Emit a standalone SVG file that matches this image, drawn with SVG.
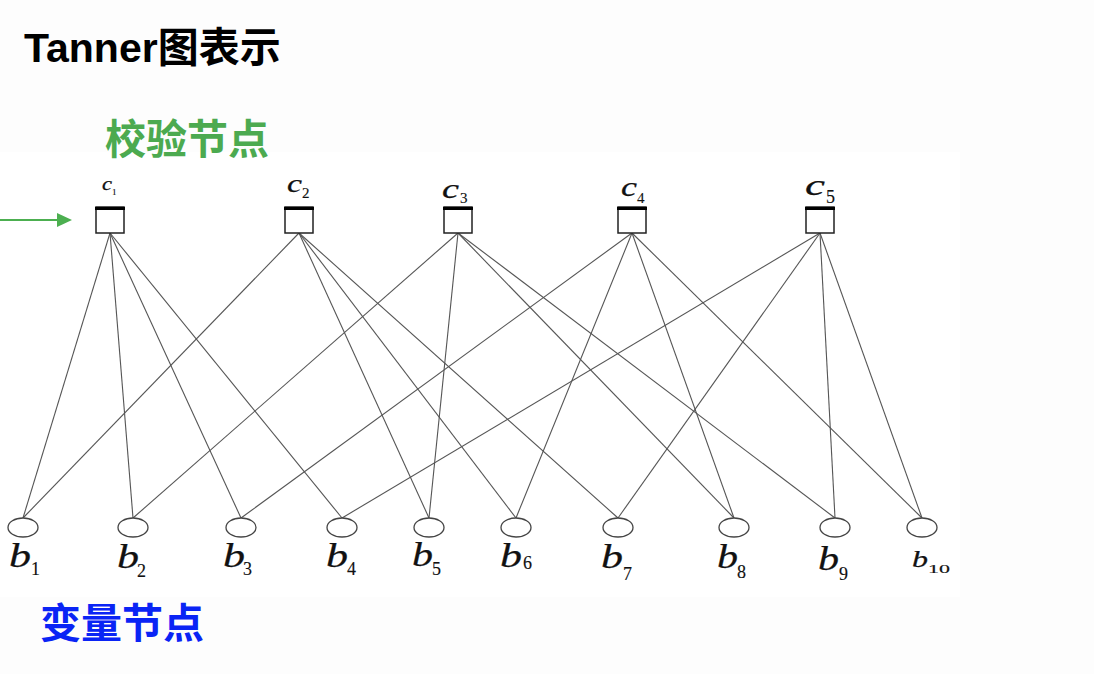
<svg xmlns="http://www.w3.org/2000/svg" width="1094" height="674" viewBox="0 0 1094 674">
<defs>
<style>
.title{font-family:"Liberation Sans","Noto Sans CJK SC",sans-serif;font-weight:bold;font-size:41px;fill:#000}
.cjk{font-family:"Noto Sans CJK SC",sans-serif;font-weight:bold;font-size:41px}
.edge{stroke:#555;stroke-width:1.1;fill:none}
.box{fill:#fff;stroke:#222;stroke-width:1.5}
.bar{stroke:#000;stroke-width:3}
.var{fill:#fff;stroke:#444;stroke-width:1.3}
.lbl{font-family:"Liberation Serif",serif;font-style:italic;fill:#111;stroke:#111;stroke-width:0.25}
.sub{font-family:"Liberation Serif",serif;fill:#111;stroke:#111;stroke-width:0.15}
</style>
</defs>
<rect x="0" y="0" width="1094" height="674" fill="#fdfdfd"/>
<rect x="0" y="152" width="960" height="445" fill="#ffffff"/>
<text class="title" x="24" y="62">Tanner图表示</text>
<text class="cjk" x="105" y="154" fill="#4caa50">校验节点</text>
<text class="cjk" x="40" y="638" fill="#0a24f5">变量节点</text>
<line x1="0" y1="220" x2="60" y2="220" stroke="#4caf50" stroke-width="2"/>
<path d="M57,213 L72,220 L57,227 z" fill="#4caf50"/>
<g id="connectors">
<line class="edge" x1="110" y1="233" x2="23" y2="518"/>
<line class="edge" x1="110" y1="233" x2="133" y2="518"/>
<line class="edge" x1="110" y1="233" x2="241" y2="518"/>
<line class="edge" x1="110" y1="233" x2="342" y2="518"/>
<line class="edge" x1="299" y1="233" x2="23" y2="518"/>
<line class="edge" x1="299" y1="233" x2="429" y2="518"/>
<line class="edge" x1="299" y1="233" x2="516" y2="518"/>
<line class="edge" x1="299" y1="233" x2="618" y2="518"/>
<line class="edge" x1="458" y1="233" x2="133" y2="518"/>
<line class="edge" x1="458" y1="233" x2="429" y2="518"/>
<line class="edge" x1="458" y1="233" x2="734" y2="518"/>
<line class="edge" x1="458" y1="233" x2="835" y2="518"/>
<line class="edge" x1="632" y1="233" x2="241" y2="518"/>
<line class="edge" x1="632" y1="233" x2="516" y2="518"/>
<line class="edge" x1="632" y1="233" x2="734" y2="518"/>
<line class="edge" x1="632" y1="233" x2="922" y2="518"/>
<line class="edge" x1="820" y1="233" x2="342" y2="518"/>
<line class="edge" x1="820" y1="233" x2="618" y2="518"/>
<line class="edge" x1="820" y1="233" x2="835" y2="518"/>
<line class="edge" x1="820" y1="233" x2="922" y2="518"/>
</g>
<g id="c1"><rect class="box" x="96" y="207" width="28" height="26"/><line class="bar" x1="95" y1="208.5" x2="125" y2="208.5"/><text class="lbl" x="102" y="190" font-size="18" textLength="10" lengthAdjust="spacingAndGlyphs">c</text><text class="sub" x="112" y="195" font-size="9">1</text></g>
<g id="c2"><rect class="box" x="285" y="207" width="28" height="26"/><line class="bar" x1="284" y1="208.5" x2="314" y2="208.5"/><text class="lbl" x="287" y="192" font-size="26" textLength="15" lengthAdjust="spacingAndGlyphs">c</text><text class="sub" x="302" y="198" font-size="15">2</text></g>
<g id="c3"><rect class="box" x="444" y="207" width="28" height="26"/><line class="bar" x1="443" y1="208.5" x2="473" y2="208.5"/><text class="lbl" x="442" y="198" font-size="27" textLength="17" lengthAdjust="spacingAndGlyphs">c</text><text class="sub" x="460" y="203" font-size="15">3</text></g>
<g id="c4"><rect class="box" x="618" y="207" width="28" height="26"/><line class="bar" x1="617" y1="208.5" x2="647" y2="208.5"/><text class="lbl" x="621" y="196" font-size="27" textLength="16" lengthAdjust="spacingAndGlyphs">c</text><text class="sub" x="637" y="203" font-size="15">4</text></g>
<g id="c5"><rect class="box" x="806" y="207" width="28" height="26"/><line class="bar" x1="805" y1="208.5" x2="835" y2="208.5"/><text class="lbl" x="805" y="195" font-size="30" textLength="20" lengthAdjust="spacingAndGlyphs">c</text><text class="sub" x="826" y="203" font-size="18">5</text></g>
<g id="b1"><ellipse class="var" cx="23" cy="527.5" rx="15" ry="9.5"/><text class="lbl" x="9" y="567" font-size="34" textLength="22" lengthAdjust="spacingAndGlyphs">b</text><text class="sub" x="31" y="575" font-size="18">1</text></g>
<g id="b2"><ellipse class="var" cx="133" cy="527.5" rx="15" ry="9.5"/><text class="lbl" x="117" y="568" font-size="34" textLength="22" lengthAdjust="spacingAndGlyphs">b</text><text class="sub" x="137" y="577" font-size="18">2</text></g>
<g id="b3"><ellipse class="var" cx="241" cy="527.5" rx="15" ry="9.5"/><text class="lbl" x="223" y="567" font-size="34" textLength="22" lengthAdjust="spacingAndGlyphs">b</text><text class="sub" x="243" y="575" font-size="18">3</text></g>
<g id="b4"><ellipse class="var" cx="342" cy="527.5" rx="15" ry="9.5"/><text class="lbl" x="326" y="567" font-size="34" textLength="22" lengthAdjust="spacingAndGlyphs">b</text><text class="sub" x="347" y="575" font-size="18">4</text></g>
<g id="b5"><ellipse class="var" cx="429" cy="527.5" rx="15" ry="9.5"/><text class="lbl" x="412" y="566" font-size="34" textLength="21" lengthAdjust="spacingAndGlyphs">b</text><text class="sub" x="432" y="575" font-size="18">5</text></g>
<g id="b6"><ellipse class="var" cx="516" cy="527.5" rx="15" ry="9.5"/><text class="lbl" x="500" y="567" font-size="34" textLength="22" lengthAdjust="spacingAndGlyphs">b</text><text class="sub" x="523" y="569" font-size="18">6</text></g>
<g id="b7"><ellipse class="var" cx="618" cy="527.5" rx="15" ry="9.5"/><text class="lbl" x="601" y="568" font-size="34" textLength="22" lengthAdjust="spacingAndGlyphs">b</text><text class="sub" x="623" y="580" font-size="18">7</text></g>
<g id="b8"><ellipse class="var" cx="734" cy="527.5" rx="15" ry="9.5"/><text class="lbl" x="717" y="568" font-size="34" textLength="21" lengthAdjust="spacingAndGlyphs">b</text><text class="sub" x="737" y="578" font-size="18">8</text></g>
<g id="b9"><ellipse class="var" cx="835" cy="527.5" rx="15" ry="9.5"/><text class="lbl" x="818" y="570" font-size="34" textLength="21" lengthAdjust="spacingAndGlyphs">b</text><text class="sub" x="839" y="580" font-size="18">9</text></g>
<g id="b10"><ellipse class="var" cx="922" cy="527.5" rx="15" ry="9.5"/><text class="lbl" x="912" y="567" font-size="24" textLength="16" lengthAdjust="spacingAndGlyphs">b</text><text class="sub" x="928" y="573" font-size="13" textLength="22" lengthAdjust="spacingAndGlyphs">10</text></g>
</svg>
